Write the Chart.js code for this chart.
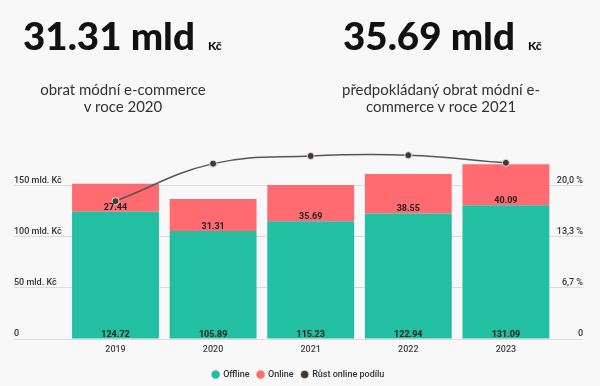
<!DOCTYPE html>
<html lang="cs">
<head>
<meta charset="utf-8">
<title>Obrat módní e-commerce</title>
<script src="https://cdn.jsdelivr.net/npm/chart.js@4/dist/chart.umd.min.js"></script>
<style>
  html, body { margin: 0; padding: 0; background: #f8f8f8; overflow: hidden; }
  #page { position: relative; width: 600px; height: 386px; }
  #chart { position: absolute; left: 0; top: 0; }
  .big { position: absolute; top: 16px; font-family: Lato, sans-serif; font-weight: 900;
         font-size: 38.5px; line-height: 39px; color: #111; white-space: nowrap; }
  .big small { font-size: 12px; font-weight: 900; margin-left: 13px; }
  .sub { position: absolute; top: 81px; width: 240px; text-align: center; font-family: Lato, sans-serif;
         font-size: 15px; line-height: 17px; color: #333; }
</style>
</head>
<body>
<div id="page">
  <canvas id="chart" width="600" height="386"></canvas>
  <div class="big" style="left:23px">31.31 mld<small>Kč</small></div>
  <div class="sub" style="left:3px">obrat módní e-commerce<br>v roce 2020</div>
  <div class="big" style="left:343px">35.69 mld<small>Kč</small></div>
  <div class="sub" style="left:321px">předpokládaný obrat módní e-<br>commerce v roce 2021</div>
</div>
<script>
// Data
const years = ['2019', '2020', '2021', '2022', '2023'];
const offline = [124.72, 105.89, 115.23, 122.94, 131.09];
const online = [27.44, 31.31, 35.69, 38.55, 40.09];
const onlineShare = [18.0, 22.9, 23.9, 24.0, 23.0];

const leftTicks = [0, 50, 100, 150];
const leftTickLabels = ['0', '50 mld. Kč', '100 mld. Kč', '150 mld. Kč'];
const rightTicks = [0, 20 / 3, 40 / 3, 20];
const rightTickLabels = ['0', '6,7 %', '13,3 %', '20,0 %'];

const GREEN = '#22bfa3';
const RED = '#ff6b70';
const DARK = '#454545';

const tickFont = { family: 'Roboto', size: 9, weight: '500' };

// bar value labels (offline at bar base, online at bottom of its segment)
const barLabels = {
  id: 'barLabels',
  afterDatasetsDraw(chart) {
    const ctx = chart.ctx;
    ctx.save();
    ctx.font = 'bold 9px Roboto';
    ctx.fillStyle = '#222';
    ctx.textAlign = 'center';
    ctx.textBaseline = 'alphabetic';
    [0, 1].forEach(di => {
      const meta = chart.getDatasetMeta(di);
      const values = chart.data.datasets[di].data;
      meta.data.forEach((bar, i) => {
        ctx.fillText(values[i].y.toFixed(2), bar.x, bar.base - 2);
      });
    });
    ctx.restore();
  }
};

const toPoints = arr => arr.map((v, i) => ({ x: i, y: v }));

new Chart(document.getElementById('chart'), {
  type: 'bar',
  data: {
    datasets: [
      {
        label: 'Offline',
        data: toPoints(offline),
        backgroundColor: GREEN,
        borderWidth: 0,
        yAxisID: 'y',
        categoryPercentage: 1,
        barPercentage: 0.89
      },
      {
        label: 'Online',
        data: toPoints(online),
        backgroundColor: RED,
        borderWidth: 0,
        yAxisID: 'y',
        categoryPercentage: 1,
        barPercentage: 0.89
      },
      {
        type: 'line',
        label: 'Růst online podílu',
        data: toPoints(onlineShare),
        yAxisID: 'y1',
        order: -1,
        borderColor: '#555',
        backgroundColor: DARK,
        borderWidth: 1.5,
        tension: 0.4,
        pointRadius: 3.5,
        pointBackgroundColor: '#3a3a3a',
        pointBorderColor: '#f3dcc6',
        pointBorderWidth: 1
      }
    ]
  },
  options: {
    responsive: false,
    animation: false,
    layout: { padding: { left: 14, right: 17, top: 145, bottom: -3 } },
    plugins: {
      legend: {
        position: 'bottom',
        labels: {
          usePointStyle: true,
          pointStyle: 'circle',
          boxWidth: 6,
          boxHeight: 6,
          padding: 8,
          color: '#333',
          font: tickFont,
          sort: (a, b) => a.datasetIndex - b.datasetIndex
        }
      },
      tooltip: { enabled: false }
    },
    scales: {
      x: {
        type: 'linear',
        stacked: true,
        offset: false,
        min: -1.04,
        max: 4.79,
        grid: { display: false, drawTicks: false },
        border: { display: false },
        afterBuildTicks: s => { s.ticks = years.map((_, i) => ({ value: i })); },
        afterFit: s => { s.height = 23; },
        ticks: {
          padding: 5,
          color: '#444',
          font: tickFont,
          autoSkip: false,
          maxRotation: 0,
          callback: v => years[v]
        }
      },
      y: {
        position: 'left',
        stacked: true,
        min: 0,
        max: 190,
        afterBuildTicks: s => { s.ticks = leftTicks.map(v => ({ value: v })); },
        afterFit: s => { s.width = 0; },
        grid: { color: '#dcdcdc', drawTicks: false },
        border: { display: false },
        ticks: {
          mirror: true,
          padding: 0,
          labelOffset: -5,
          color: '#333',
          font: tickFont,
          callback: (v, i) => leftTickLabels[i]
        }
      },
      y1: {
        position: 'right',
        min: 0,
        max: 190 / 150 * 20,
        afterBuildTicks: s => { s.ticks = rightTicks.map(v => ({ value: v })); },
        afterFit: s => { s.width = 0; },
        grid: { display: false },
        border: { display: false },
        ticks: {
          mirror: true,
          padding: 0,
          labelOffset: -5,
          color: '#333',
          font: tickFont,
          callback: (v, i) => rightTickLabels[i]
        }
      }
    }
  },
  plugins: [barLabels]
});
</script>
</body>
</html>
